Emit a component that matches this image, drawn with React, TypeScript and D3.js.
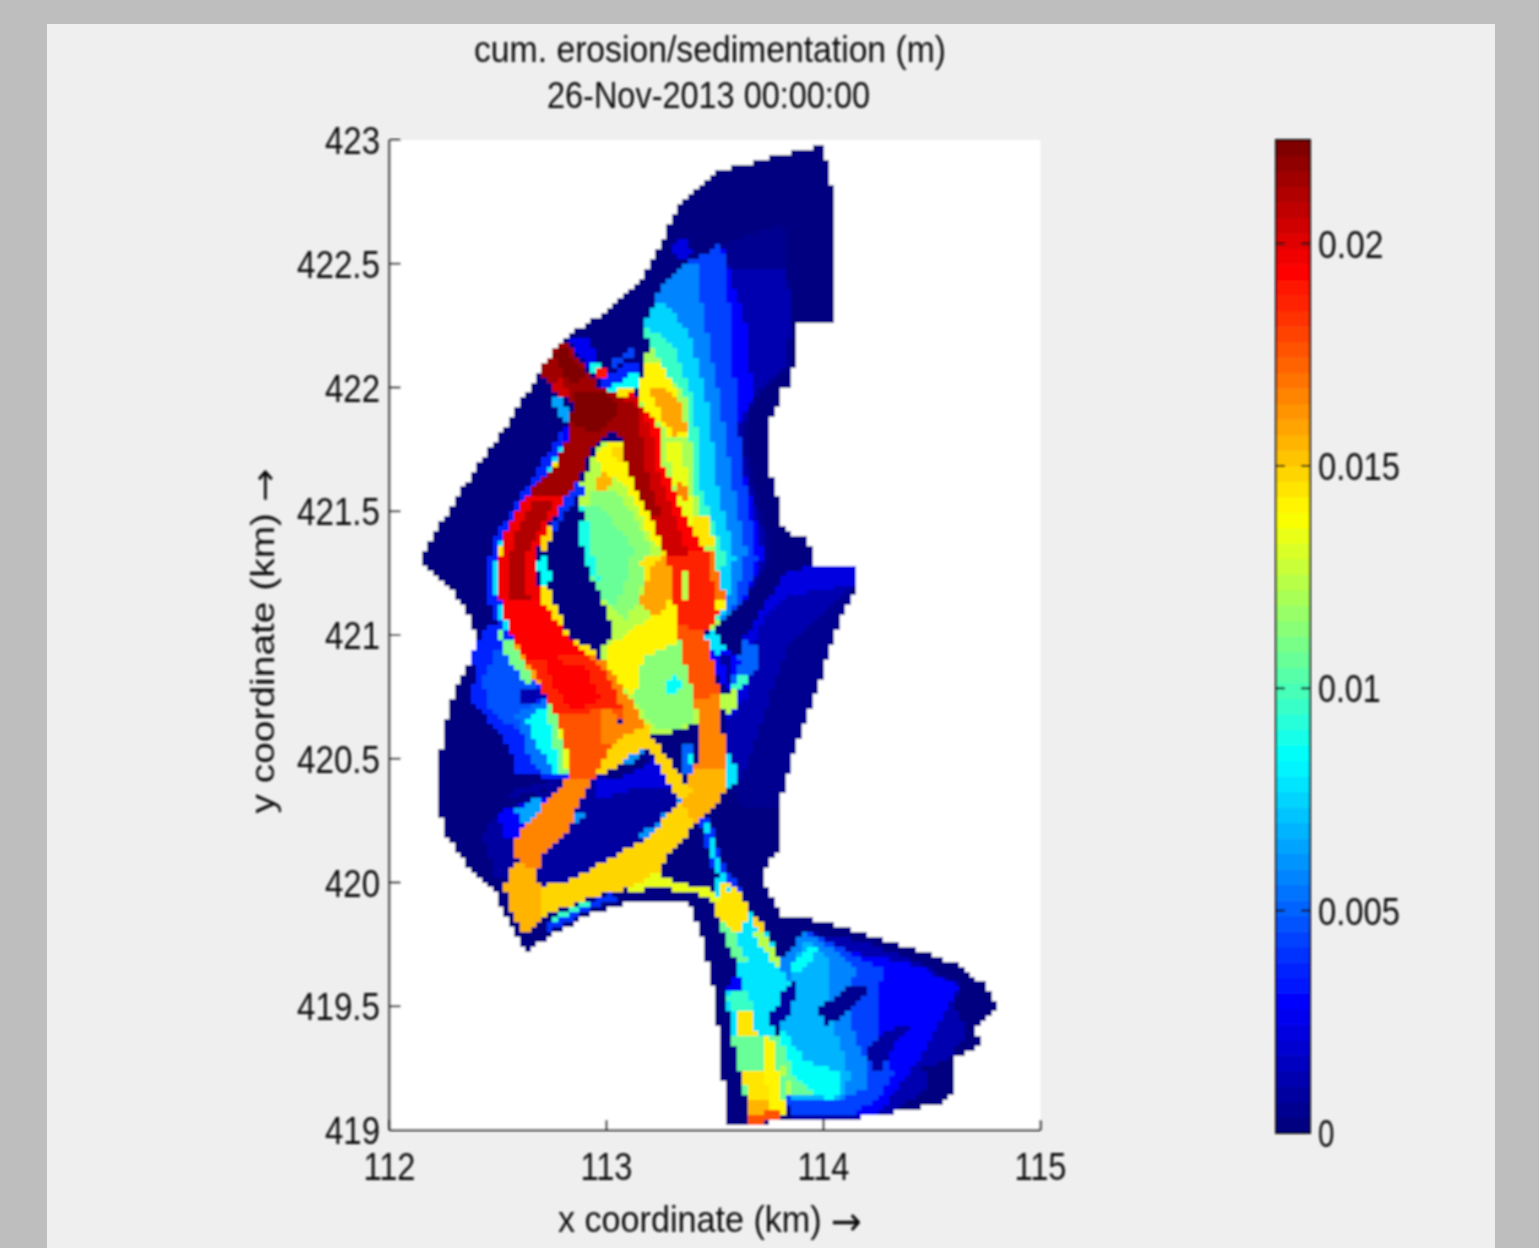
import React, { useMemo } from "react";
import * as d3 from "d3";

type P = [number, number];
type Region = [number, P[]];

// Axis ticks
const xTicks = [112, 113, 114, 115];
const yTicks = [419, 419.5, 420, 420.5, 421, 421.5, 422, 422.5, 423];
const yTickLabels = ["419", "419.5", "420", "420.5", "421", "421.5", "422", "422.5", "423"];
const barTicks = [0, 0.005, 0.01, 0.015, 0.02];
const barTickLabels = ["0", "0.005", "0.01", "0.015", "0.02"];
const barMax = 0.02233;
const titleLines = ["cum. erosion/sedimentation (m)", "26-Nov-2013 00:00:00"];

// Model domain outline (km)
const outline: P[] = [[113.99,422.98],[114.02,422.9],[114.04,422.8],[114.05,422.6],[114.05,422.26],[113.87,422.26],[113.86,422.01],[113.79,422.01],[113.79,421.93],[113.75,421.85],[113.74,421.83],[113.75,421.69],[113.78,421.59],[113.81,421.44],[113.85,421.41],[113.93,421.41],[113.95,421.28],[114.15,421.29],[114.16,421.2],[114.1,421.1],[114.01,420.9],[113.96,420.8],[113.87,420.72],[113.85,420.62],[113.82,420.37],[113.79,420.29],[113.79,420.13],[113.73,420.05],[113.74,419.97],[113.8,419.87],[113.87,419.87],[113.96,419.85],[114.35,419.75],[114.63,419.67],[114.74,419.59],[114.81,419.5],[114.74,419.44],[114.7,419.42],[114.73,419.34],[114.61,419.29],[114.61,419.18],[114.56,419.11],[114.26,419.06],[113.82,419.04],[113.66,419.02],[113.55,419.01],[113.53,419.32],[113.49,419.57],[113.43,419.81],[113.38,419.91],[113.15,419.93],[112.92,419.87],[112.62,419.72],[112.58,419.79],[112.49,419.95],[112.37,420.05],[112.26,420.19],[112.22,420.33],[112.23,420.5],[112.26,420.66],[112.32,420.82],[112.41,420.94],[112.38,421.06],[112.28,421.18],[112.14,421.3],[112.23,421.44],[112.42,421.71],[112.56,421.87],[112.69,422.07],[112.82,422.21],[112.97,422.29],[113.15,422.43],[113.27,422.62],[113.34,422.74],[113.52,422.88],[113.71,422.92],[113.89,422.96]];

const fanEdge: P[] = [[113.52,421.04],[113.34,420.98],[113.15,421.95],[113.17,422.1],[113.21,422.13],[113.17,422.24],[113.21,422.32],[113.25,422.42],[113.38,422.51]];

// Upper fan
const upperFan: Region[] = [
  [0.0005, [[113.53,422.58],[113.81,422.66],[113.86,422.26],[113.86,422.09],[113.75,422.01],[113.67,421.95],[113.64,421.83],[113.67,421.63],[113.74,421.42],[113.75,421.3],[113.64,421.14],...fanEdge]],
  [0.0012, [[113.58,422.49],[113.83,422.49],[113.85,422.27],[113.82,422.09],[113.68,421.96],[113.62,421.83],[113.65,421.63],[113.72,421.42],[113.73,421.3],[113.64,421.14],...fanEdge]],
  [0.0028, [[113.53,422.58],[113.58,422.43],[113.65,422.23],[113.67,421.96],[113.6,421.83],[113.64,421.63],[113.7,421.42],[113.72,421.32],[113.64,421.14],...fanEdge]],
  [0.0042, [[113.53,422.58],[113.56,422.39],[113.57,422.19],[113.6,421.95],[113.62,421.71],[113.67,421.42],[113.69,421.3],[113.62,421.12],...fanEdge]],
  [0.0058, [[113.41,422.51],[113.43,422.39],[113.46,422.23],[113.52,421.96],[113.57,421.67],[113.64,421.34],[113.59,421.12],...fanEdge]],
  [0.0075, [[113.26,422.34],[113.38,422.23],[113.46,421.96],[113.52,421.56],[113.59,421.32],[113.55,421.1],...fanEdge.slice(0,7)]],
  [0.0095, [[113.21,422.23],[113.31,422.17],[113.4,421.96],[113.44,421.56],[113.55,421.32],[113.5,421.14],...fanEdge.slice(0,6)]],
  [0.012, [[113.2,422.17],[113.28,422.05],[113.37,421.96],[113.41,421.56],[113.5,421.32],[113.45,421.14],...fanEdge.slice(0,4)]],
  [0.014, [[113.17,422.1],[113.25,422.1],[113.33,421.97],[113.38,421.81],[113.3,421.79],[113.15,421.95]]],
  [0.0135, [[113.27,421.79],[113.34,421.79],[113.38,421.59],[113.43,421.42],[113.38,421.42],[113.32,421.56]]],
  [0.016, [[113.2,421.99],[113.27,422],[113.34,421.93],[113.37,421.83],[113.32,421.8],[113.27,421.85]]],
  [0.0165, [[113.32,421.63],[113.38,421.59],[113.38,421.53],[113.34,421.55]]],
  [0.0145, [[113.4,421.48],[113.48,421.49],[113.49,421.36],[113.42,421.36]]],
  [0.0022, [[113.29,422.57],[113.35,422.62],[113.4,422.55],[113.35,422.5]]],
  [0.0025, [[112.82,422.19],[112.89,422.21],[112.97,422.14],[112.92,422.08]]],
  [0.0045, [[113.02,422.1],[113.11,422.16],[113.13,422.14],[113.03,422.07]]],
  [0.0035, [[112.97,422.03],[113.08,422.09],[113.15,422.11],[113.15,422.07],[113,421.98]]],
  [0.0085, [[112.99,421.99],[113.15,422.07],[113.15,422.01],[113.04,421.98]]],
  [0.0145, [[113.02,421.98],[113.12,422.01],[113.13,421.97],[113.03,421.95]]],
  [0.009, [[112.92,422.09],[112.99,422.11],[112.98,422.08],[112.93,422.06]]],
  [0.019, [[112.95,422.07],[113,422.08],[113.02,422.06],[112.97,422.03]]],
  [0.0065, [[112.74,421.96],[112.79,421.95],[112.83,421.89],[112.82,421.85],[112.78,421.89]]],
  [0.003, [[112.79,421.83],[112.83,421.85],[112.83,421.79],[112.8,421.79]]],
];

// East lobe
const eastLobe: Region[] = [
  [0.0006, [[113.83,421.26],[114.15,421.29],[114.16,421.21],[114.08,421.07],[113.98,420.81],[113.86,420.51],[113.79,420.3],[113.63,420.3],[113.52,420.44],[113.56,420.74],[113.63,420.98]]],
  [0.0012, [[113.83,421.26],[114.15,421.28],[114.14,421.21],[114.01,421.1],[113.85,420.98],[113.75,420.74],[113.62,420.41],[113.55,420.43],[113.56,420.74],[113.63,420.98]]],
  [0.0024, [[113.83,421.26],[114.04,421.29],[114.15,421.29],[114.16,421.21],[114.04,421.19],[113.83,421.15],[113.72,421.07],[113.69,420.98],[113.62,420.89],[113.65,420.75],[113.56,420.66],[113.54,420.55],[113.55,420.66],[113.57,420.74],[113.63,420.98]]],
  [0.005, [[113.63,420.98],[113.71,420.94],[113.69,420.86],[113.62,420.79],[113.56,420.75]]],
  [0.003, [[113.46,420.98],[113.57,420.94],[113.62,420.89],[113.56,420.78],[113.52,420.82],[113.48,420.91]]],
  [0.008, [[113.48,421.03],[113.56,420.94],[113.51,420.92],[113.45,420.98]]],
  [0.001, [[113.52,420.93],[113.56,420.92],[113.59,420.82],[113.56,420.8]]],
  [0.0095, [[113.62,420.86],[113.65,420.82],[113.59,420.74],[113.56,420.7],[113.55,420.74]]],
  [0.0125, [[113.52,420.74],[113.59,420.78],[113.59,420.7],[113.55,420.66]]],
  [0.008, [[113.53,420.58],[113.59,420.47],[113.61,420.41],[113.55,420.37],[113.53,420.45]]],
];

// West lobe
const westLobe: Region[] = [
  [0.0035, [[112.46,421.05],[112.38,420.92],[112.4,420.84],[112.37,420.74],[112.45,420.66],[112.56,420.54],[112.57,420.45],[112.83,420.41],[112.83,420.74],[112.65,420.94],[112.56,421.04]]],
  [0.0048, [[112.49,420.94],[112.43,420.82],[112.46,420.7],[112.58,420.62],[112.69,420.74],[112.65,420.9]]],
  [0.0012, [[112.6,420.71],[112.74,420.75],[112.69,420.79],[112.6,420.79]]],
  [0.0055, [[112.58,420.68],[112.72,420.74],[112.75,420.7],[112.83,420.45],[112.73,420.43],[112.65,420.49]]],
  [0.0085, [[112.62,420.66],[112.74,420.72],[112.81,420.45],[112.76,420.45],[112.69,420.54]]],
  [0.011, [[112.72,420.72],[112.76,420.78],[112.85,420.45],[112.79,420.43]]],
  [0.0135, [[112.74,420.8],[112.77,420.81],[112.86,420.45],[112.82,420.43]]],
  [0.011, [[112.49,421.04],[112.56,421.01],[112.68,420.82],[112.62,420.8],[112.53,420.94]]],
  [0.016, [[112.53,421.04],[112.58,421.01],[112.72,420.82],[112.67,420.8]]],
  [0.001, [[112.43,420.19],[112.5,420.28],[112.73,420.37],[112.76,420.43],[112.79,420.37],[112.6,420.19],[112.56,420.03],[112.49,420.01]]],
  [0.003, [[112.5,420.28],[112.73,420.35],[112.69,420.23],[112.6,420.19],[112.53,420.19]]],
  [0.0065, [[112.58,420.29],[112.69,420.35],[112.72,420.31],[112.69,420.25],[112.6,420.24]]],
  [0.001, [[112.53,420.36],[112.76,420.42],[112.79,420.39],[112.56,420.34]]],
];

// Basin between the two southern channels
const basin: Region[] = [
  [0.001, [[112.86,420.3],[112.92,420.41],[113.15,420.52],[113.28,420.49],[113.36,420.35],[113.17,420.17],[113.02,420.1],[112.86,420.02],[112.7,419.98],[112.68,420.05],[112.71,420.12],[112.77,420.16],[112.85,420.25]]],
  [0.0022, [[112.94,420.41],[113.18,420.51],[113.28,420.49],[113.32,420.37],[113.15,420.39],[112.97,420.33]]],
  [0.0003, [[112.97,420.45],[113.15,420.52],[113.21,420.49],[113.03,420.41]]],
  [0.006, [[113.15,420.18],[113.35,420.34],[113.37,420.32],[113.18,420.16]]],
  [0.006, [[113.06,420.49],[113.15,420.54],[113.18,420.52],[113.08,420.47]]],
  [0.006, [[112.85,420.28],[112.89,420.27],[112.86,420.24]]],
  [0.004, [[112.72,419.83],[112.9,419.91],[113.03,419.96],[113.04,419.93],[112.88,419.87],[112.74,419.8]]],
  [0.0095, [[112.74,419.86],[112.9,419.92],[112.92,419.91],[112.76,419.84]]],
];

// South fan
const southFan: Region[] = [
  [0.0012, [[113.8,419.69],[113.92,419.8],[114.18,419.76],[114.41,419.69],[114.64,419.58],[114.6,419.51],[114.66,419.39],[114.57,419.29],[114.46,419.25],[114.48,419.17],[114.32,419.07],[114.17,419.05],[113.86,419.05],[113.81,419.12],[113.8,419.42]]],
  [0.0028, [[113.8,419.69],[113.92,419.8],[114.11,419.72],[114.26,419.7],[114.44,419.66],[114.63,419.58],[114.55,419.46],[114.44,419.28],[114.32,419.15],[114.26,419.07],[114.08,419.05],[113.86,419.07],[113.81,419.12],[113.8,419.42]]],
  [0.0042, [[113.92,419.8],[114.09,419.73],[114.27,419.65],[114.25,419.51],[114.25,419.38],[114.32,419.23],[114.25,419.12],[114.14,419.07],[113.86,419.07],[113.81,419.12],[113.8,419.42],[113.8,419.69]]],
  [0.0058, [[113.92,419.8],[114.06,419.72],[114.15,419.66],[114.11,419.51],[114.15,419.36],[114.21,419.25],[114.2,419.17],[114.08,419.12],[113.86,419.12],[113.8,419.42],[113.8,419.69]]],
  [0.0068, [[113.85,419.65],[113.92,419.77],[114.02,419.7],[114.02,419.51],[114.08,419.34],[114.12,419.21],[114.08,419.12],[113.86,419.13],[113.81,419.15],[113.8,419.42]]],
  [0.0085, [[113.8,419.42],[113.92,419.28],[114.06,419.24],[114.09,419.16],[114.04,419.12],[113.92,419.15],[113.81,419.13]]],
  [0.0085, [[113.85,419.66],[113.94,419.74],[113.98,419.73],[113.88,419.63]]],
  [0.0105, [[113.79,419.39],[113.86,419.23],[113.94,419.15],[113.81,419.13]]],
  [0.0125, [[113.8,419.28],[113.86,419.15],[113.81,419.14],[113.78,419.24]]],
  [0.0005, [[113.97,419.48],[114.12,419.59],[114.21,419.59],[114.2,419.55],[114.09,419.46],[114.02,419.42]]],
  [0.0008, [[114.19,419.31],[114.29,419.4],[114.37,419.43],[114.4,419.4],[114.32,419.34],[114.25,419.23]]],
];

// Throat and southern inlet
const throat: Region[] = [
  [0.0078, [[113.49,420.01],[113.57,420.03],[113.66,419.89],[113.75,419.78],[113.81,419.65],[113.85,419.59],[113.8,419.51],[113.78,419.38],[113.59,419.38],[113.55,419.54],[113.61,419.62],[113.58,419.73],[113.52,419.82]]],
  [0.0105, [[113.51,419.87],[113.57,419.83],[113.64,419.69],[113.61,419.67],[113.55,419.77]]],
  [0.0008, [[113.8,419.55],[113.86,419.61],[113.88,419.58],[113.86,419.51],[113.83,419.44],[113.75,419.42],[113.74,419.47],[113.8,419.51]]],
  [0.0145, [[113.51,419.86],[113.6,419.78],[113.66,419.89],[113.58,420],[113.53,419.99],[113.51,419.93]]],
  [0.0125, [[113.66,419.81],[113.75,419.78],[113.8,419.66],[113.78,419.65],[113.71,419.75]]],
  [0.015, [[113.67,419.89],[113.72,419.83],[113.74,419.78],[113.69,419.81]]],
  [0.003, [[113.57,419.61],[113.64,419.63],[113.62,419.57],[113.56,419.57]]],
  [0.0095, [[113.55,419.54],[113.64,419.57],[113.69,419.48],[113.59,419.48]]],
  [0.0145, [[113.59,419.48],[113.66,419.49],[113.69,419.39],[113.6,419.38]]],
  [0.0105, [[113.58,419.38],[113.8,419.38],[113.82,419.12],[113.64,419.12]]],
  [0.0142, [[113.72,419.38],[113.76,419.38],[113.81,419.12],[113.74,419.12]]],
  [0.0145, [[113.63,419.24],[113.73,419.24],[113.75,419.08],[113.65,419.06]]],
  [0.0155, [[113.65,419.12],[113.75,419.12],[113.76,419.07],[113.65,419.05]]],
  [0.014, [[113.75,419.14],[113.81,419.14],[113.82,419.07],[113.76,419.06]]],
  [0.0175, [[113.65,419.06],[113.81,419.08],[113.81,419.04],[113.66,419.02]]],
  [0.0135, [[113.07,419.98],[113.22,420.05],[113.25,420.02],[113.38,419.99],[113.47,419.98],[113.52,419.93],[113.5,419.91],[113.43,419.95],[113.25,419.98],[113.11,419.96]]],
  [0.004, [[113.43,420.25],[113.47,420.27],[113.53,420.09],[113.59,420.01],[113.64,419.93],[113.55,420.01],[113.49,420.05]]],
  [0.0078, [[113.45,420.24],[113.47,420.23],[113.52,420.07],[113.59,419.93],[113.53,420.01],[113.49,420.09]]],
];

// Interior shoal between the two northern channels
const interior: Region[] = [
  [0.0125, [[112.97,421.77],[113.12,421.79],[113.2,421.55],[113.28,421.38],[113.34,421.14],[113.38,420.94],[113.41,420.74],[113.42,420.64],[113.27,420.6],[113.15,420.58],[113.06,420.74],[112.97,420.94],[113.03,421.01],[112.98,421.14],[112.92,421.26],[112.88,421.38],[112.89,421.48],[112.87,421.59]]],
  [0.0115, [[112.92,421.59],[113.06,421.57],[113.2,421.36],[113.15,421.14],[113.08,421.06],[113.01,421.14]]],
  [0.0105, [[112.89,421.53],[112.97,421.52],[113.06,421.42],[113.12,421.36],[113.09,421.22],[113.04,421.12],[112.98,421.14],[112.92,421.26],[112.88,421.38]]],
  [0.009, [[112.87,421.53],[112.91,421.5],[112.92,421.38],[112.97,421.22],[112.92,421.26],[112.88,421.38]]],
  [0.014, [[112.96,421.73],[113.02,421.78],[113.12,421.79],[113.2,421.59],[113.28,421.38],[113.22,421.36],[113.15,421.5],[113.06,421.63],[112.97,421.65]]],
  [0.0155, [[112.94,421.63],[112.99,421.67],[113.03,421.63],[112.99,421.58],[112.95,421.59]]],
  [0.015, [[113.03,421.76],[113.09,421.77],[113.11,421.71],[113.04,421.7]]],
  [0.014, [[113,420.95],[113.15,421.04],[113.29,421.11],[113.35,420.98],[113.2,420.82],[113.15,420.72],[113.08,420.78],[112.99,420.88]]],
  [0.0115, [[113.17,420.91],[113.35,420.98],[113.41,420.74],[113.41,420.65],[113.27,420.61],[113.2,420.64],[113.13,420.74]]],
  [0.0085, [[113.27,420.82],[113.32,420.84],[113.35,420.79],[113.32,420.75],[113.28,420.77]]],
  [0.0145, [[113.15,421.3],[113.27,421.34],[113.28,421.26],[113.2,421.2]]],
  [0.016, [[113.15,421.12],[113.2,421.26],[113.27,421.32],[113.33,421.26],[113.3,421.12],[113.22,421.08]]],
];

// Channels and their margins
const channels: Region[] = [
  [0.0035, [[112.79,421.82],[112.82,421.77],[112.53,421.36],[112.5,421.3],[112.51,421.14],[112.57,420.98],[112.53,420.98],[112.45,421.14],[112.44,421.26],[112.49,421.4]]],
  [0.008, [[112.8,421.77],[112.82,421.75],[112.54,421.38],[112.49,421.3],[112.5,421.14],[112.56,421],[112.51,421.06],[112.48,421.18],[112.49,421.34]]],
  [0.0145, [[112.81,421.76],[112.83,421.73],[112.55,421.4],[112.51,421.32],[112.51,421.14],[112.53,421.1],[112.49,421.2],[112.5,421.34]]],
  [0.0145, [[112.66,421.21],[112.72,421.21],[112.77,421.11],[112.83,420.99],[112.96,420.94],[112.96,420.9],[112.81,420.96],[112.74,421.08]]],
  [0.0085, [[112.68,421.3],[112.72,421.33],[112.75,421.22],[112.7,421.2]]],
  [0.015, [[112.71,421.43],[112.77,421.45],[112.77,421.36],[112.71,421.33]]],
  [0.004, [[112.85,421.63],[112.9,421.59],[112.81,421.44],[112.74,421.42]]],
  [0.0165, [[112.92,420.92],[112.99,420.9],[113.08,420.78],[113.2,420.62],[113.2,420.56],[113.06,420.49],[113.02,420.54],[113.08,420.69],[113,420.85]]],
  [0.015, [[113.02,420.56],[113.2,420.64],[113.22,420.57],[113.04,420.47],[112.95,420.43]]],
  [0.0215, [[112.83,421.83],[112.94,421.79],[112.9,421.69],[112.82,421.56],[112.63,421.56],[112.77,421.69]]],
  [0.0198, [[112.63,421.56],[112.82,421.56],[112.73,421.44],[112.66,421.3],[112.71,421.13],[112.51,421.14],[112.51,421.31],[112.54,421.42]]],
  [0.021, [[112.67,421.55],[112.77,421.55],[112.69,421.43],[112.62,421.3],[112.64,421.14],[112.55,421.14],[112.55,421.31],[112.59,421.42]]],
  [0.0195, [[112.51,421.14],[112.71,421.13],[112.83,420.98],[112.92,420.92],[112.96,420.85],[112.62,420.9],[112.57,420.98]]],
  [0.0185, [[112.62,420.9],[112.92,420.92],[113,420.85],[113.08,420.69],[112.77,420.66],[112.68,420.83]]],
  [0.0192, [[112.72,420.9],[112.9,420.88],[112.97,420.74],[112.85,420.69],[112.76,420.78]]],
  [0.0175, [[112.77,420.68],[113.08,420.7],[113.02,420.55],[112.94,420.43],[112.83,420.41],[112.83,420.49]]],
  [0.0165, [[112.98,420.7],[113.06,420.68],[113.03,420.55],[112.97,420.57]]],
  [0.0165, [[112.73,420.33],[112.83,420.43],[112.94,420.43],[112.86,420.3],[112.85,420.25],[112.77,420.16],[112.71,420.12],[112.68,420.05],[112.59,420.09],[112.56,420.14],[112.6,420.2]]],
  [0.015, [[113.35,420.33],[113.17,420.17],[113.02,420.1],[112.86,420.02],[112.69,419.98],[112.71,419.86],[112.89,419.93],[113.08,419.97],[113.25,420.05],[113.29,420.12],[113.42,420.24],[113.5,420.31]]],
  [0.0155, [[112.59,420.09],[112.68,420.05],[112.69,419.98],[112.71,419.86],[112.62,419.78],[112.57,419.86],[112.53,419.98],[112.55,420.05]]],
  [0.0195, [[113.07,421.95],[113.11,421.99],[113.25,421.83],[113.26,421.69],[113.32,421.56],[113.4,421.42],[113.47,421.3],[113.34,421.26],[113.28,421.31],[113.23,421.42],[113.15,421.56],[113.09,421.69],[113.06,421.8]]],
  [0.0205, [[113.07,421.95],[113.13,421.97],[113.21,421.83],[113.22,421.69],[113.28,421.56],[113.34,421.42],[113.38,421.32],[113.28,421.31],[113.23,421.42],[113.15,421.56],[113.09,421.69],[113.06,421.8]]],
  [0.0215, [[113.07,421.93],[113.15,421.87],[113.18,421.69],[113.22,421.56],[113.25,421.48],[113.2,421.48],[113.15,421.56],[113.09,421.69],[113.06,421.8]]],
  [0.0185, [[113.28,421.32],[113.47,421.34],[113.51,421.22],[113.54,421.14],[113.5,421.06],[113.44,420.98],[113.34,420.98],[113.32,421.06],[113.31,421.14]]],
  [0.017, [[113.47,421.38],[113.5,421.3],[113.55,421.14],[113.51,421.14],[113.47,421.3]]],
  [0.014, [[113.51,421.15],[113.55,421.14],[113.54,421.1],[113.51,421.09]]],
  [0.0125, [[113.34,421.27],[113.37,421.27],[113.38,421.15],[113.35,421.15]]],
  [0.014, [[113.28,421.14],[113.31,421.14],[113.32,421.06],[113.29,421.06]]],
  [0.0175, [[113.32,421.04],[113.45,421.02],[113.5,420.86],[113.53,420.74],[113.42,420.72],[113.38,420.82]]],
  [0.0165, [[113.41,420.74],[113.52,420.76],[113.54,420.58],[113.54,420.45],[113.41,420.43],[113.42,420.6]]],
  [0.0155, [[113.4,420.47],[113.54,420.47],[113.56,420.41],[113.5,420.3],[113.41,420.23],[113.35,420.33]]],
  [0, [[113.21,420.59],[113.42,420.62],[113.4,420.57],[113.34,420.55],[113.38,420.43],[113.32,420.44],[113.26,420.52]]],
  [0.005, [[113.34,420.55],[113.4,420.56],[113.39,420.43],[113.35,420.45]]],
  [0.0085, [[113.36,420.53],[113.39,420.53],[113.39,420.47]]],
  [0.015, [[113.18,420.56],[113.22,420.58],[113.39,420.37],[113.35,420.33],[113.31,420.37]]],
  [0, [[112.87,421.58],[112.89,421.48],[112.88,421.38],[112.92,421.26],[112.98,421.14],[113.03,421.01],[112.96,420.93],[112.88,420.98],[112.83,421.01],[112.79,421.14],[112.76,421.26],[112.73,421.36],[112.78,421.44]]],
  [0.0215, [[112.8,422.2],[112.97,422],[113.07,421.96],[113.15,421.91],[113.12,421.84],[113,421.82],[112.95,421.76],[112.83,421.82],[112.84,421.93],[112.68,422.06]]],
  [0.0222, [[112.85,421.97],[112.97,421.99],[113.06,421.91],[113,421.84],[112.92,421.81],[112.83,421.87]]],
  [0.0222, [[112.75,422.13],[112.8,422.17],[112.9,422.06],[112.84,422.01]]],
  [0.0205, [[112.74,422.01],[112.79,422.04],[112.84,421.96],[112.79,421.96]]],
];

const regions: Region[] = [[0, outline], ...upperFan, ...eastLobe, ...westLobe, ...basin, ...southFan, ...throat, ...interior, ...channels];

const cellX = 0.025;
const cellY = 0.02;

function jet(v: number): string {
  const t = Math.min(63, Math.floor((v / barMax) * 64)) / 63;
  const c = (d: number) => Math.round(255 * Math.max(0, Math.min(1, 1.5 - Math.abs(4 * t - d))));
  return d3.rgb(c(3), c(2), c(1)).formatHex();
}

const font = "'Liberation Sans', Arial, sans-serif";
const arrowFont = "'DejaVu Sans', sans-serif";

export default function App() {
  const x = d3.scaleLinear().domain([112, 115]).range([389.5, 1040.5]);
  const y = d3.scaleLinear().domain([419, 423]).range([1130, 140]);
  const bar = d3.scaleLinear().domain([0, barMax]).range([1133, 140]);

  const runs = useMemo(() => {
    const boxes = regions.map(([, pts]) => ({
      x0: d3.min(pts, (p) => p[0])!, x1: d3.max(pts, (p) => p[0])!,
      y0: d3.min(pts, (p) => p[1])!, y1: d3.max(pts, (p) => p[1])!,
    }));
    const lookup = (px: number, py: number): number | null => {
      for (let i = regions.length - 1; i >= 0; i--) {
        const b = boxes[i];
        if (px < b.x0 || px > b.x1 || py < b.y0 || py > b.y1) continue;
        if (d3.polygonContains(regions[i][1], [px, py])) return regions[i][0];
      }
      return null;
    };
    const out: { i0: number; i1: number; j: number; v: number }[] = [];
    const nx = Math.round(3 / cellX);
    const ny = Math.round(4 / cellY);
    for (let j = 0; j < ny; j++) {
      let cur: { i0: number; i1: number; j: number; v: number } | null = null;
      for (let i = 0; i < nx; i++) {
        const v = lookup(112 + (i + 0.5) * cellX, 419 + (j + 0.5) * cellY);
        if (v === null) { cur = null; continue; }
        if (cur && cur.v === v) cur.i1 = i + 1;
        else { cur = { i0: i, i1: i + 1, j, v }; out.push(cur); }
      }
    }
    return out;
  }, []);

  const barLevels = d3.range(64);
  const tickColor = "#111";
  const text = "#111";
  const px = (i: number) => Math.round(x(112 + i * cellX));
  const py = (j: number) => Math.round(y(419 + j * cellY));

  return (
    <svg width={1539} height={1248} style={{ position: "absolute", left: 0, top: 0, display: "block" }}>
      <defs>
        <filter id="soft" filterUnits="userSpaceOnUse" x={0} y={0} width={1539} height={1248}>
          <feGaussianBlur stdDeviation={0.9} />
        </filter>
      </defs>
      <rect width={1539} height={1248} fill="#bebebe" />
      <rect x={47} y={24} width={1448} height={1224} fill="#efefef" />
      <g filter="url(#soft)" fontFamily={font}>
        <rect x={x(112)} y={y(423)} width={x(115) - x(112)} height={y(419) - y(423)} fill="#fff" />
        <g shapeRendering="crispEdges">
          {runs.map((r, k) => (
            <rect key={k} x={px(r.i0)} y={py(r.j + 1)} width={px(r.i1) - px(r.i0)} height={py(r.j) - py(r.j + 1)} fill={jet(r.v)} />
          ))}
        </g>
        <line x1={x(112)} x2={x(115)} y1={y(419)} y2={y(419)} stroke={tickColor} strokeWidth={2} />
        <line x1={x(112)} x2={x(112)} y1={y(419)} y2={y(423)} stroke={tickColor} strokeWidth={2} />
        {xTicks.map((t) => (
          <g key={t}>
            <line x1={x(t)} x2={x(t)} y1={y(419)} y2={y(419) - 10} stroke={tickColor} strokeWidth={2} />
            <text x={x(t)} y={1180} fontSize={38} fill={text} textAnchor="middle" textLength={52} lengthAdjust="spacingAndGlyphs">{t}</text>
          </g>
        ))}
        {yTicks.map((t, i) => (
          <g key={t}>
            <line x1={x(112)} x2={x(112) + 11} y1={y(t)} y2={y(t)} stroke={tickColor} strokeWidth={2} />
            <text x={380} y={y(t) + 14} fontSize={38} fill={text} textAnchor="end" textLength={yTickLabels[i].length > 3 ? 83 : 55} lengthAdjust="spacingAndGlyphs">{yTickLabels[i]}</text>
          </g>
        ))}
        <text x={710} y={62} fontSize={37} fill={text} textAnchor="middle" textLength={472} lengthAdjust="spacingAndGlyphs">{titleLines[0]}</text>
        <text x={708.5} y={108} fontSize={37} fill={text} textAnchor="middle" textLength={323} lengthAdjust="spacingAndGlyphs">{titleLines[1]}</text>
        <text x={710} y={1232} fontSize={37} fill={text} textAnchor="middle" textLength={304} lengthAdjust="spacingAndGlyphs">x coordinate (km) <tspan fontFamily={arrowFont} fontSize={40} dy={3}>→</tspan></text>
        <text transform="translate(274,641) rotate(-90)" fontSize={33} fill={text} textAnchor="middle" textLength={345} lengthAdjust="spacingAndGlyphs">y coordinate (km) <tspan fontFamily={arrowFont} fontSize={34} dy={2}>→</tspan></text>

        {barLevels.map((l) => (
          <rect key={l} x={1276} width={34} y={bar(((l + 1) / 64) * barMax)} height={bar((l / 64) * barMax) - bar(((l + 1) / 64) * barMax) + 0.5} fill={jet(((l + 0.5) / 64) * barMax)} />
        ))}
        <rect x={1276} y={140} width={34} height={993} fill="none" stroke={tickColor} strokeWidth={2} />
        {barTicks.map((t, i) => (
          <g key={t}>
            <line x1={1276} x2={1285} y1={bar(t)} y2={bar(t)} stroke={tickColor} strokeWidth={2} />
            <line x1={1301} x2={1310} y1={bar(t)} y2={bar(t)} stroke={tickColor} strokeWidth={2} />
            <text x={1318} y={bar(t) + 14} fontSize={38} fill={text} textLength={barTickLabels[i].length * 16.4 - (barTickLabels[i] === "0.01" ? 3 : 0)} lengthAdjust="spacingAndGlyphs">{barTickLabels[i]}</text>
          </g>
        ))}
      </g>
    </svg>
  );
}
